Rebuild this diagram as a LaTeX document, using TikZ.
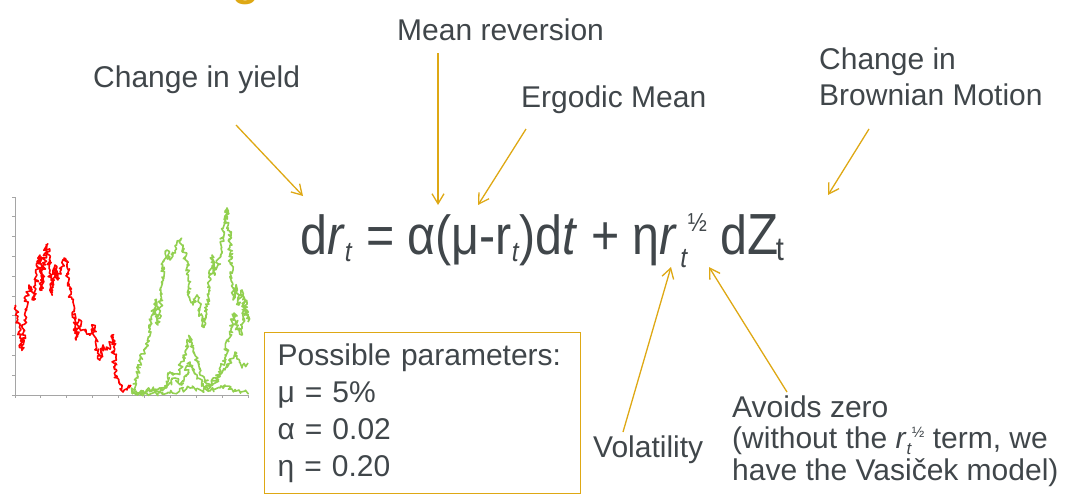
\documentclass[tikz,border=0pt]{standalone}
\usepackage{fontspec}
\setmainfont{Liberation Sans}
\usetikzlibrary{arrows.meta,decorations.pathmorphing}
\definecolor{txt}{RGB}{64,70,74}
\definecolor{gold}{RGB}{222,168,20}
\definecolor{grn}{RGB}{146,208,80}
\definecolor{axisgray}{RGB}{165,165,165}
\newcommand\shiftsz[3]{\raisebox{#1pt}{\fontsize{#2}{#2}\selectfont #3}}
\begin{document}
\begin{tikzpicture}[x=1pt,y=-1pt,
  lbl/.style={inner sep=0pt,anchor=base west,text=txt,align=left,font=\fontsize{30}{36}\selectfont},
  callout/.style={draw=gold,line width=1.3pt,-{Straight Barb[length=10pt,width=12pt,line width=1.3pt]}},
  walk/.style={line width=1.6pt,line join=round,decorate,decoration={random steps,segment length=1.5pt,amplitude=2.4pt}},
  axisline/.style={draw=axisgray,line width=1pt}]
\useasboundingbox (0,0) rectangle (1069,496);
\begin{scope}
\clip (0,0) rectangle (1069,496);
\node[anchor=base,inner sep=0pt,text=gold,font=\fontsize{44}{44}\selectfont\bfseries] (ttl) at (246,-5) {g};
\end{scope}

% chart
\draw[axisline] (15,197) -- (15,395) -- (248,395);
\foreach \i in {0,...,10} \draw[axisline] (12,197+19.8*\i) -- (15,197+19.8*\i);
\foreach \i in {0,...,9} \draw[axisline] (15+25.9*\i,395) -- (15+25.9*\i,398);
\pgfmathsetseed{7}
\draw[walk,red] (15,305) -- (17,318) -- (20,338) -- (22,350) -- (24,330) -- (26,300) -- (29,285) -- (32,290) -- (34,300) -- (37,275) -- (40,255) -- (42,290) -- (45,250) -- (47,245) -- (50,270) -- (52,295) -- (55,265) -- (58,280) -- (61,270) -- (64,258) -- (67,265) -- (70,295) -- (73,302) -- (76,340) -- (79,320) -- (82,330) -- (86,330) -- (90,335) -- (93,325) -- (96,345) -- (100,360) -- (103,345) -- (107,350) -- (110,345) -- (113,335) -- (115,375) -- (119,380) -- (123,392) -- (127,390) -- (131,385);
\draw[walk,grn] (132,392) -- (136,380) -- (140,360) -- (144,350) -- (148,345) -- (152,315) -- (155,300) -- (158,325) -- (161,300) -- (164,260) -- (167,250) -- (170,260) -- (173,255) -- (176,245) -- (180,240) -- (183,245) -- (187,265) -- (190,300) -- (193,305) -- (197,295) -- (200,310) -- (203,327) -- (206,315) -- (209,290) -- (212,255) -- (215,275) -- (218,265) -- (221,245) -- (224,225) -- (227,208) -- (230,245) -- (233,300) -- (236,285) -- (239,305) -- (242,290) -- (245,315) -- (248,310);
\draw[walk,grn] (132,394) -- (150,390) -- (165,388) -- (170,372) -- (178,374) -- (185,352) -- (190,337) -- (195,355) -- (200,375) -- (210,385) -- (220,372) -- (225,355) -- (230,335) -- (234,313) -- (238,330) -- (242,335) -- (245,300) -- (248,322);
\draw[walk,grn] (132,393) -- (160,392) -- (168,385) -- (175,378) -- (182,385) -- (190,362) -- (197,375) -- (205,388) -- (215,383) -- (225,370) -- (235,352) -- (242,368) -- (248,363);
\draw[walk,grn] (132,394) -- (170,393) -- (190,388) -- (210,391) -- (225,385) -- (235,391) -- (248,393);

% labels
\node[lbl] (yield) at (93,87) {Change in yield};
\node[lbl] (meanrev) at (397,40) {Mean reversion};
\node[lbl] (ergodic) at (521,107) {Ergodic Mean};
\node[lbl] (brown) at (819,105) {Change in\\Brownian Motion};
\node[lbl] (vol) at (593,457) {Volatility};
\node[lbl,font=\fontsize{30}{31.5}\selectfont] (avoid) at (732,480) {Avoids zero\\(without the \textit{r}\shiftsz{-6}{17}{\textit{t}}\shiftsz{11}{15}{½} term, we\\have the Vasiček model)};

% equation
\node[inner sep=0pt,anchor=base west,text=txt,font=\fontsize{55}{60}\selectfont] (eq) at (300,254)
 {\scalebox{0.88}[1]{d\textit{r}\shiftsz{-7}{28}{\textit{t}} = α(μ-r\shiftsz{-7}{28}{\textit{t}})d\textit{t} + η\textit{r}\hspace{3pt}\shiftsz{-13}{28}{\textit{t}}\shiftsz{23}{26}{½} d{\fontsize{58}{58}\selectfont Z}\kern-3pt\shiftsz{-6}{33}{t}}};

% parameter box
\node[draw=gold,line width=1.3pt,anchor=north west,minimum width=316pt,minimum height=161pt,
  inner xsep=13pt,text width=290pt,align=left,text=txt,font=\fontsize{30}{37}\selectfont] (params) at (264,332)
 {Possible parameters:\\μ = 5\%\\α = 0.02\\η = 0.20};

% arrow coordinates
\coordinate (yieldS) at (236,125); \coordinate (yieldT) at (303,196);
\coordinate (mrS) at (438,53); \coordinate (mrT) at (438,205);
\coordinate (ergS) at (526,129); \coordinate (ergT) at (478,205);
\coordinate (brS) at (869,129); \coordinate (brT) at (828,195);
\coordinate (volS) at (623,432); \coordinate (volT) at (671,267);
\coordinate (avS) at (787,392); \coordinate (avT) at (709,267);
\draw[callout] (yieldS) -- (yieldT);
\draw[callout] (mrS) -- (mrT);
\draw[callout] (ergS) -- (ergT);
\draw[callout] (brS) -- (brT);
\draw[callout] (volS) -- (volT);
\draw[callout] (avS) -- (avT);
\end{tikzpicture}
\end{document}
